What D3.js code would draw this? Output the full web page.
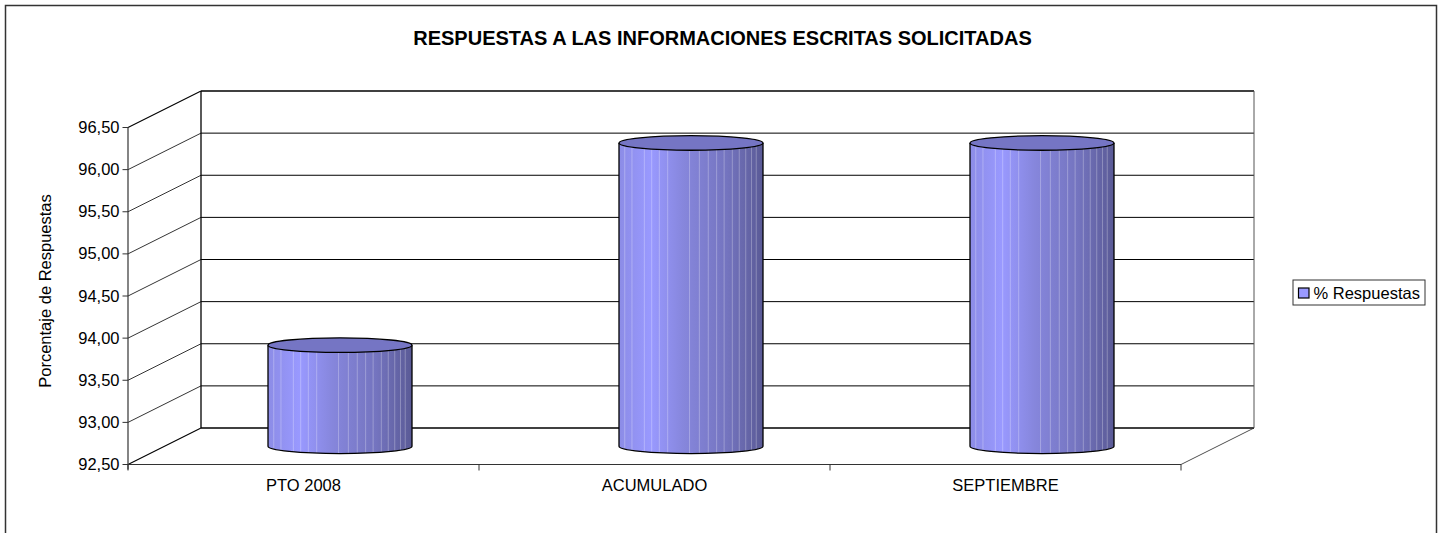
<!DOCTYPE html>
<html><head><meta charset="utf-8">
<script src="https://cdn.jsdelivr.net/npm/d3@7"></script>
<style>html,body{margin:0;padding:0;background:#fff}svg{display:block}text{font-family:"Liberation Sans",Arial,sans-serif;fill:#000}</style>
</head><body><svg id="c" width="1446" height="533"></svg>
<script>
const titleText = "RESPUESTAS A LAS INFORMACIONES ESCRITAS SOLICITADAS";
const yAxisTitle = "Porcentaje de Respuestas";
const seriesName = "% Respuestas";
const categories = ["PTO 2008", "ACUMULADO", "SEPTIEMBRE"];
const values = [93.70, 96.10, 96.10];
const yTicks = [92.5, 93, 93.5, 94, 94.5, 95, 95.5, 96, 96.5];

const svg = d3.select("#c");
const depth = {x: 73, y: -36.5};
const x = d3.scaleBand().domain(categories).range([128, 1181]);
const y = d3.scaleLinear().domain([92.5, 96.5]).range([464.5, 127.5]);
const fmt = v => v.toFixed(2).replace(".", ",");
const labelSize = 16.5;

// outer frame (open at the bottom, cropped)
svg.append("path").attr("d","M5.5,533V5.5H1436.5V533").attr("fill","none").attr("stroke","#333").attr("stroke-width",1.5);

// title
svg.append("text").attr("x",722.5).attr("y",45).attr("text-anchor","middle")
  .attr("font-size",20).attr("font-weight","bold").text(titleText);

// gridlines on back wall and side wall
const gBack = svg.append("g");
gBack.selectAll("line.g").data(yTicks).join("line")
  .attr("x1",128+depth.x).attr("x2",1181+depth.x)
  .attr("y1",d=>y(d)+depth.y).attr("y2",d=>y(d)+depth.y)
  .attr("stroke","#000").attr("stroke-width",d=>d===92.5||d===96.5?1.3:1);
gBack.selectAll("line.s").data(yTicks).join("line").attr("class","s")
  .attr("x1",128).attr("x2",128+depth.x)
  .attr("y1",d=>y(d)).attr("y2",d=>y(d)+depth.y)
  .attr("stroke","#000").attr("stroke-width",d=>d===92.5||d===96.5?1.2:0.8);
// walls
gBack.append("line").attr("x1",128+depth.x).attr("x2",128+depth.x)
  .attr("y1",y(96.5)+depth.y).attr("y2",y(92.5)+depth.y).attr("stroke","#000").attr("stroke-width",1.3);
gBack.append("line").attr("x1",1181+depth.x).attr("x2",1181+depth.x)
  .attr("y1",y(96.5)+depth.y).attr("y2",y(92.5)+depth.y).attr("stroke","#555").attr("stroke-width",1);
gBack.append("line").attr("x1",1181).attr("x2",1181+depth.x)
  .attr("y1",y(92.5)).attr("y2",y(92.5)+depth.y).attr("stroke","#222").attr("stroke-width",0.8);

// cylinder gradient
const defs = svg.append("defs");
const grad = defs.append("linearGradient").attr("id","cyl").attr("x1",0).attr("x2",1).attr("y1",0).attr("y2",0);
[[0,"#8c8ce6"],[0.22,"#9999ff"],[0.45,"#8686dc"],[0.75,"#7474bf"],[1,"#5a5a96"]]
  .forEach(([o,c])=>grad.append("stop").attr("offset",o).attr("stop-color",c));

const cylW = 144, ry = 7.3;
const stripes = [0.04,0.09,0.176,0.227,0.28,0.338,0.49,0.558,0.62,0.678,0.73,0.787,0.835,0.88,0.92,0.953];
const cx = d => x(d) + x.bandwidth()/2 + depth.x/2;
const baseY = y(92.5) + depth.y/2;
const g = svg.selectAll("g.cyl").data(categories.map((c,i)=>({c,v:values[i]}))).join("g").attr("class","cyl");
g.append("path").attr("d",d=>{
    const l=cx(d.c)-cylW/2, r=cx(d.c)+cylW/2, t=y(d.v)+depth.y/2;
    return `M${l},${t}L${l},${baseY}A${cylW/2},${ry} 0 0 0 ${r},${baseY}L${r},${t}Z`;
  }).attr("fill","url(#cyl)");
g.each(function(d){
  const l=cx(d.c)-cylW/2, t=y(d.v)+depth.y/2;
  d3.select(this).selectAll("line").data(stripes).join("line")
    .attr("x1",s=>l+s*cylW).attr("x2",s=>l+s*cylW)
    .attr("y1",t).attr("y2",s=>baseY+ry*Math.sqrt(1-Math.pow(2*s-1,2)))
    .attr("stroke","#fff").attr("stroke-opacity",0.28).attr("stroke-width",1);
});
g.append("path").attr("d",d=>{
    const l=cx(d.c)-cylW/2, r=cx(d.c)+cylW/2, t=y(d.v)+depth.y/2;
    return `M${l},${t}L${l},${baseY}A${cylW/2},${ry} 0 0 0 ${r},${baseY}L${r},${t}`;
  }).attr("fill","none").attr("stroke","#000").attr("stroke-width",1.3);
g.append("ellipse").attr("cx",d=>cx(d.c)).attr("cy",d=>y(d.v)+depth.y/2)
  .attr("rx",cylW/2).attr("ry",ry).attr("fill","#7575c4").attr("stroke","#000").attr("stroke-width",1.3);

// front axes
const axisCol="#333";
svg.append("line").attr("x1",128).attr("x2",128).attr("y1",y(96.5)).attr("y2",y(92.5)+5).attr("stroke",axisCol).attr("stroke-width",1.2);
svg.append("line").attr("x1",123).attr("x2",1181).attr("y1",y(92.5)).attr("y2",y(92.5)).attr("stroke",axisCol).attr("stroke-width",1.2);
svg.selectAll("line.t").data(yTicks).join("line").attr("class","t")
  .attr("x1",122.5).attr("x2",128).attr("y1",d=>y(d)).attr("y2",d=>y(d)).attr("stroke",axisCol);
svg.selectAll("text.yl").data(yTicks).join("text").attr("class","yl")
  .attr("x",119.5).attr("y",d=>y(d)+5.5).attr("text-anchor","end").attr("font-size",labelSize).text(fmt);
const xTickPos = categories.map(c=>x(c)+x.bandwidth()).concat([x(categories[0])]);
svg.selectAll("line.xt").data(xTickPos).join("line").attr("class","xt")
  .attr("x1",d=>d).attr("x2",d=>d).attr("y1",y(92.5)).attr("y2",y(92.5)+6).attr("stroke",axisCol);
svg.selectAll("text.xl").data(categories).join("text").attr("class","xl")
  .attr("x",c=>x(c)+x.bandwidth()/2).attr("y",491).attr("text-anchor","middle").attr("font-size",labelSize).text(c=>c);

// y-axis title
svg.append("text").attr("transform","translate(51,291) rotate(-90)").attr("text-anchor","middle")
  .attr("font-size",labelSize).text(yAxisTitle);

// legend
const lg = svg.append("g");
lg.append("rect").attr("x",1293).attr("y",280).attr("width",132).attr("height",25).attr("fill","#fff").attr("stroke","#333").attr("stroke-width",1);
lg.append("rect").attr("x",1298.5).attr("y",288).attr("width",10.5).attr("height",10).attr("fill","#9999ff").attr("stroke","#000").attr("stroke-width",1.2);
lg.append("text").attr("x",1313.5).attr("y",298.5).attr("font-size",labelSize).text(seriesName);
</script></body></html>
